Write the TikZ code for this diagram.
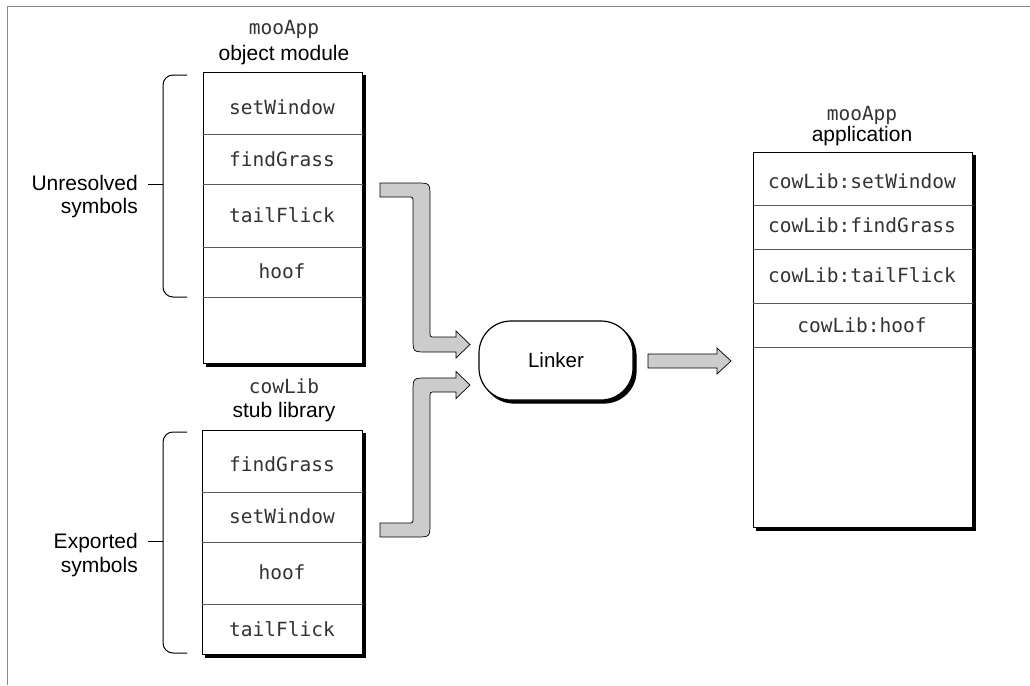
\documentclass[tikz,border=0pt]{standalone}
\usepackage{fontspec}
\setmainfont{Liberation Sans}
\newfontfamily\mymono{DejaVu Sans Mono}
\begin{document}
\begin{tikzpicture}[x=1pt,y=-1pt,
  box/.style={draw=black,line width=1.2pt,fill=white,inner sep=0pt},
  shade/.style={fill=black,draw=black,line width=1.2pt,inner sep=0pt},
  sep/.style={draw=black!65,line width=0.9pt},
  mono/.style={font=\mymono\fontsize{19.5}{22}\selectfont,text=black!80,anchor=base,inner sep=0pt},
  lab/.style={font=\fontsize{21}{23}\selectfont,anchor=base,inner sep=0pt},
  blk/.style={fill=black!20,draw=black,line width=0.7pt},
  bracestyle/.style={draw=black,line width=1pt,rounded corners=10pt}]

\useasboundingbox (0,0) rectangle (1030,685);
\draw[black!45,line width=1pt] (1030,7) -- (7,7) -- (7,685);

% ---------- object module ----------
\node[lab] (omA) at (284,34.5) {\mymono\fontsize{19.5}{22}\selectfont\color{black!80}mooApp};
\node[lab] (omB) at (284,60.5) {object module};
\node[shade,anchor=north west,minimum width=159pt,minimum height=291pt] (omS) at (206,75) {};
\node[box,anchor=north west,minimum width=159pt,minimum height=291pt] (om) at (203,72) {};
\foreach \yy in {134,184,247,297} \draw[sep] (om.west |- 0,\yy) -- (om.east |- 0,\yy);
\node[mono] (o1) at (282,114) {setWindow};
\node[mono] (o2) at (282,166) {findGrass};
\node[mono] (o3) at (282,222) {tailFlick};
\node[mono] (o4) at (282,278) {hoof};

\draw[bracestyle] (187,75) -- (163,75) -- (163,297) -- (187,297);
\coordinate (ut) at (163,184);
\coordinate (ul) at (148,184);
\draw[black,line width=1pt] (ut) -- (ul);
\node[lab,anchor=base east] (u1) at (138,190) {Unresolved};
\node[lab,anchor=base east] (u2) at (138,213) {symbols};

% ---------- stub library ----------
\node[lab] (slA) at (284,393) {\mymono\fontsize{19.5}{22}\selectfont\color{black!80}cowLib};
\node[lab] (slB) at (284,417) {stub library};
\node[shade,anchor=north west,minimum width=160pt,minimum height=224pt] (slS) at (205,433) {};
\node[box,anchor=north west,minimum width=160pt,minimum height=224pt] (sl) at (202,430) {};
\foreach \yy in {492,542,604} \draw[sep] (sl.west |- 0,\yy) -- (sl.east |- 0,\yy);
\node[mono] (s1) at (282,471) {findGrass};
\node[mono] (s2) at (282,523) {setWindow};
\node[mono] (s3) at (282,579) {hoof};
\node[mono] (s4) at (282,636) {tailFlick};

\draw[bracestyle] (187,432) -- (163,432) -- (163,653) -- (187,653);
\coordinate (et) at (163,541);
\coordinate (el) at (148,541);
\draw[black,line width=1pt] (et) -- (el);
\node[lab,anchor=base east] (e1) at (138,548) {Exported};
\node[lab,anchor=base east] (e2) at (138,572) {symbols};

% ---------- linker ----------
\node[shade,rounded corners=32pt,minimum width=154pt,minimum height=79pt] (lkS) at (559,363.5) {};
\node[box,rounded corners=32pt,minimum width=154pt,minimum height=79pt,
  font=\fontsize{20.5}{22}\selectfont] (lk) at (556,360.5) {Linker};

% ---------- block arrows ----------
\draw[blk] (380,183) -- (416,183) .. controls (430,183) .. (430,197) -- (430,332)
  .. controls (430,337) .. (435,337) -- (456,337) -- (456,331) -- (470,344.5)
  -- (456,358) -- (456,352) -- (427,352) .. controls (413,352) .. (413,338)
  -- (413,202) .. controls (413,197) .. (408,197) -- (380,197) -- cycle;

\draw[blk] (380,537) -- (416,537) .. controls (430,537) .. (430,523) -- (430,397)
  .. controls (430,392) .. (435,392) -- (456,392) -- (456,398.5) -- (470,385)
  -- (456,371.5) -- (456,378) -- (427,378) .. controls (413,378) .. (413,392)
  -- (413,518) .. controls (413,523) .. (408,523) -- (380,523) -- cycle;

\draw[blk] (648,354) -- (717,354) -- (717,348) -- (731,361) -- (717,374)
  -- (717,368) -- (648,368) -- cycle;

% ---------- application ----------
\node[lab] (apA) at (862,120) {\mymono\fontsize{19.5}{22}\selectfont\color{black!80}mooApp};
\node[lab] (apB) at (862,141) {application};
\node[shade,anchor=north west,minimum width=219pt,minimum height=375pt] (apS) at (756,155) {};
\node[box,anchor=north west,minimum width=219pt,minimum height=375pt] (ap) at (753,152) {};
\foreach \yy in {205,249,303,347} \draw[sep] (ap.west |- 0,\yy) -- (ap.east |- 0,\yy);
\node[mono] (a1) at (862,188) {cowLib:setWindow};
\node[mono] (a2) at (862,232) {cowLib:findGrass};
\node[mono] (a3) at (862,282) {cowLib:tailFlick};
\node[mono] (a4) at (862,332) {cowLib:hoof};
\end{tikzpicture}
\end{document}
